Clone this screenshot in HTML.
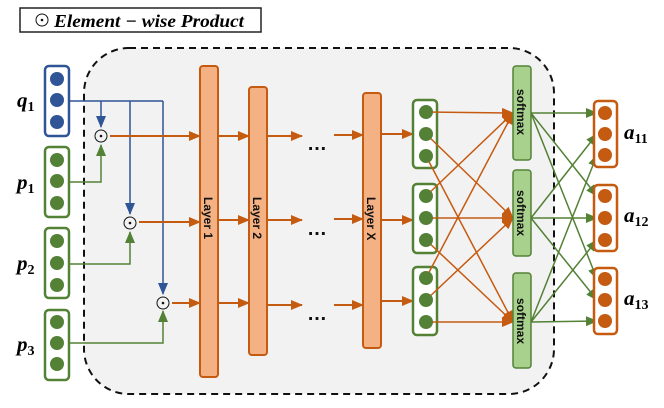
<!DOCTYPE html>
<html><head><meta charset="utf-8"><style>
html,body{margin:0;padding:0;background:#fff;}
svg{display:block;font-family:"Liberation Sans",sans-serif;}
.m{font-family:"Liberation Serif",serif;font-weight:bold;font-style:italic;}
</style></head><body>
<svg width="664" height="408" viewBox="0 0 664 408" xmlns="http://www.w3.org/2000/svg">
<defs>
<marker id="ao" markerWidth="12" markerHeight="10" refX="11" refY="5" orient="auto" markerUnits="userSpaceOnUse"><path d="M0,0 L12,5 L0,10z" fill="#c55a11"/></marker>
<marker id="ag" markerWidth="12" markerHeight="10" refX="11" refY="5" orient="auto" markerUnits="userSpaceOnUse"><path d="M0,0 L12,5 L0,10z" fill="#538135"/></marker>
<marker id="ab" markerWidth="12" markerHeight="10" refX="11" refY="5" orient="auto" markerUnits="userSpaceOnUse"><path d="M0,0 L12,5 L0,10z" fill="#2f5597"/></marker>
</defs>
<rect x="20" y="8" width="241" height="24" fill="#fff" stroke="#222" stroke-width="1.5"/>
<circle cx="42" cy="20" r="6" fill="none" stroke="#111" stroke-width="1"/><circle cx="42" cy="20" r="1.3" fill="#111"/>
<text x="54" y="27" class="m" font-size="18" textLength="190" lengthAdjust="spacingAndGlyphs">Element − wise Product</text>
<rect x="84" y="48" width="470" height="346" rx="45" fill="#f2f2f2" stroke="#111" stroke-width="2" stroke-dasharray="7,5"/>
<g stroke-width="2.5" fill="#fff">
<rect x="45" y="66" width="24" height="70" rx="4" stroke="#2f5597"/>
<rect x="45" y="147" width="24" height="70" rx="4" stroke="#538135"/>
<rect x="45" y="228" width="24" height="70" rx="4" stroke="#538135"/>
<rect x="45" y="310" width="24" height="70" rx="4" stroke="#538135"/>
</g>
<g fill="#2f5597"><circle cx="57" cy="79" r="7"/><circle cx="57" cy="100" r="7"/><circle cx="57" cy="122" r="7"/></g>
<g fill="#538135">
<circle cx="57" cy="160" r="7"/><circle cx="57" cy="181" r="7"/><circle cx="57" cy="203" r="7"/>
<circle cx="57" cy="241" r="7"/><circle cx="57" cy="263" r="7"/><circle cx="57" cy="285" r="7"/>
<circle cx="57" cy="322" r="7"/><circle cx="57" cy="343" r="7"/><circle cx="57" cy="364" r="7"/>
</g>
<g class="m" font-size="21"><text x="17" y="107">q<tspan font-size="14" dy="4" font-style="normal">1</tspan></text>
<text x="17" y="189">p<tspan font-size="14" dy="4" font-style="normal">1</tspan></text>
<text x="17" y="270">p<tspan font-size="14" dy="4" font-style="normal">2</tspan></text>
<text x="17" y="351">p<tspan font-size="14" dy="4" font-style="normal">3</tspan></text></g>
<g stroke="#2f5597" stroke-width="1.5" fill="none">
<polyline points="69,101 163,101"/>
<line x1="101" y1="101" x2="101" y2="127" marker-end="url(#ab)"/>
<line x1="130" y1="101" x2="130" y2="214" marker-end="url(#ab)"/>
<line x1="163" y1="101" x2="163" y2="294" marker-end="url(#ab)"/>
</g>
<g stroke="#538135" stroke-width="1.5" fill="none">
<polyline points="69,182 101,182 101,145" marker-end="url(#ag)"/>
<polyline points="69,264 130,264 130,232" marker-end="url(#ag)"/>
<polyline points="69,343 163,343 163,311" marker-end="url(#ag)"/>
</g>
<g fill="none" stroke="#111" stroke-width="1"><circle cx="101" cy="136" r="6"/><circle cx="130" cy="223" r="6"/><circle cx="163" cy="303" r="6"/></g>
<g fill="#111"><circle cx="101" cy="136" r="1.3"/><circle cx="130" cy="223" r="1.3"/><circle cx="163" cy="303" r="1.3"/></g>
<g stroke="#c55a11" stroke-width="2" marker-end="url(#ao)">
<line x1="110" y1="136" x2="200" y2="136"/><line x1="139" y1="222" x2="200" y2="222"/><line x1="172" y1="303" x2="200" y2="303"/>
<line x1="218" y1="136" x2="249" y2="136"/><line x1="218" y1="220" x2="249" y2="220"/><line x1="218" y1="303" x2="249" y2="303"/>
<line x1="267" y1="136" x2="302" y2="136"/><line x1="267" y1="220" x2="302" y2="220"/><line x1="267" y1="305" x2="302" y2="305"/>
<line x1="334" y1="135" x2="363" y2="135"/><line x1="334" y1="219" x2="363" y2="219"/><line x1="334" y1="305" x2="363" y2="305"/>
<line x1="381" y1="134" x2="413" y2="134"/><line x1="381" y1="220" x2="413" y2="220"/><line x1="381" y1="301" x2="413" y2="301"/>
</g>
<g font-size="20" font-weight="bold" fill="#111"><text x="307" y="150">…</text><text x="307" y="235">…</text><text x="307" y="320">…</text></g>
<g fill="#f4b183" stroke="#c55a11" stroke-width="2">
<rect x="200" y="66" width="18" height="311" rx="3"/>
<rect x="249" y="87" width="18" height="268" rx="3"/>
<rect x="363" y="93" width="18" height="255" rx="3"/>
</g>
<g font-size="12" font-weight="bold" fill="#111">
<text transform="translate(204,197) rotate(90)">Layer 1</text>
<text transform="translate(253,197) rotate(90)">Layer 2</text>
<text transform="translate(367,197) rotate(90)">Layer X</text>
</g>
<g fill="#fff" stroke="#538135" stroke-width="2.5">
<rect x="413" y="100" width="24" height="68" rx="4"/><rect x="413" y="184" width="24" height="69" rx="4"/><rect x="413" y="267" width="24" height="68" rx="4"/>
</g>
<g stroke="#c55a11" stroke-width="1.5" marker-end="url(#ao)">
<line x1="426" y1="112" x2="513" y2="113"/><line x1="426" y1="134" x2="513" y2="218"/><line x1="426" y1="156" x2="513" y2="322"/>
<line x1="426" y1="196" x2="513" y2="113"/><line x1="426" y1="218" x2="513" y2="218"/><line x1="426" y1="240" x2="513" y2="322"/>
<line x1="426" y1="278" x2="513" y2="113"/><line x1="426" y1="300" x2="513" y2="218"/><line x1="426" y1="322" x2="513" y2="322"/>
</g>
<g fill="#538135">
<circle cx="426" cy="112" r="7"/><circle cx="426" cy="134" r="7"/><circle cx="426" cy="156" r="7"/>
<circle cx="426" cy="196" r="7"/><circle cx="426" cy="218" r="7"/><circle cx="426" cy="240" r="7"/>
<circle cx="426" cy="278" r="7"/><circle cx="426" cy="300" r="7"/><circle cx="426" cy="322" r="7"/>
</g>
<g stroke="#538135" stroke-width="1.5" marker-end="url(#ag)">
<line x1="531" y1="113" x2="597" y2="113"/><line x1="531" y1="113" x2="597" y2="196"/><line x1="531" y1="113" x2="597" y2="279"/>
<line x1="531" y1="218" x2="597" y2="134"/><line x1="531" y1="218" x2="597" y2="218"/><line x1="531" y1="218" x2="597" y2="300"/>
<line x1="531" y1="322" x2="597" y2="155"/><line x1="531" y1="322" x2="597" y2="240"/><line x1="531" y1="322" x2="597" y2="321"/>
</g>
<g fill="#a9d18e" stroke="#538135" stroke-width="1.5">
<rect x="513" y="66" width="18" height="94" rx="3"/><rect x="513" y="170" width="18" height="86" rx="3"/><rect x="513" y="273" width="18" height="95" rx="3"/>
</g>
<g font-size="12" font-weight="bold" fill="#111">
<text transform="translate(517,89) rotate(90)">softmax</text>
<text transform="translate(517,190) rotate(90)">softmax</text>
<text transform="translate(517,298) rotate(90)">softmax</text>
</g>
<g fill="#fff" stroke="#c55a11" stroke-width="2.5">
<rect x="594" y="101" width="23" height="66" rx="4"/><rect x="594" y="185" width="23" height="66" rx="4"/><rect x="594" y="268" width="23" height="66" rx="4"/>
</g>
<g fill="#c55a11">
<circle cx="605" cy="113" r="7"/><circle cx="605" cy="134" r="7"/><circle cx="605" cy="155" r="7"/>
<circle cx="605" cy="196" r="7"/><circle cx="605" cy="218" r="7"/><circle cx="605" cy="240" r="7"/>
<circle cx="605" cy="279" r="7"/><circle cx="605" cy="300" r="7"/><circle cx="605" cy="321" r="7"/>
</g>
<g class="m" font-size="21"><text x="624" y="139">a<tspan font-size="14" dy="4" font-style="normal">11</tspan></text>
<text x="624" y="222">a<tspan font-size="14" dy="4" font-style="normal">12</tspan></text>
<text x="624" y="305">a<tspan font-size="14" dy="4" font-style="normal">13</tspan></text></g>
</svg>
</body></html>
